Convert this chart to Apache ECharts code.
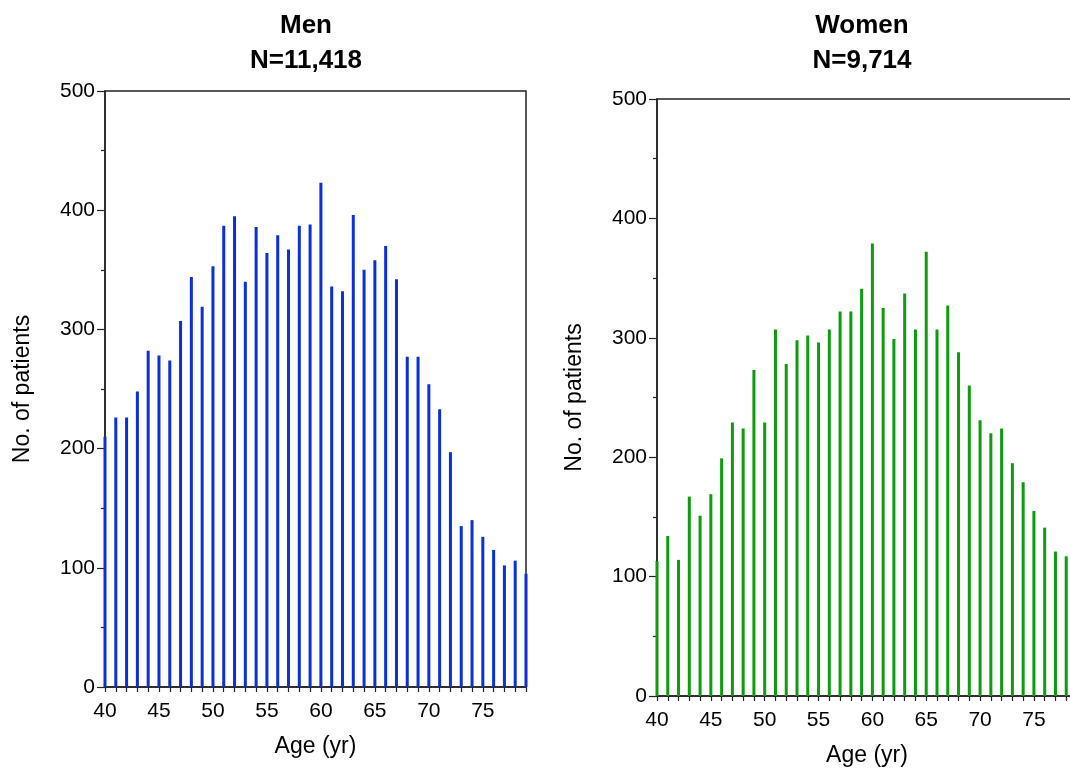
<!DOCTYPE html>
<html>
<head>
<meta charset="utf-8">
<title>Age distribution of patients</title>
<script src="https://cdn.jsdelivr.net/npm/echarts@6/dist/echarts.min.js"></script>
<style>
  html, body { margin: 0; padding: 0; background: #fff; }
  #chart { width: 1070px; height: 775px; }
</style>
</head>
<body>
<div id="chart"></div>
<script>
// Ages (years) for each bar
const ages = [40, 41, 42, 43, 44, 45, 46, 47, 48, 49, 50, 51, 52, 53, 54, 55, 56, 57, 58, 59,
              60, 61, 62, 63, 64, 65, 66, 67, 68, 69, 70, 71, 72, 73, 74, 75, 76, 77, 78, 79];

// Number of patients per year of age — men
const menCounts = [210, 226, 226, 248, 282, 278, 274, 307, 344, 319, 353, 387, 395, 340, 386, 364, 379, 367, 387, 388,
                   423, 336, 332, 396, 350, 358, 370, 342, 277, 277, 254, 233, 197, 135, 140, 126, 115, 102, 106, 95];

// Number of patients per year of age — women (ages 40–78)
const womenCounts = [113, 134, 114, 167, 151, 169, 199, 229, 224, 273, 229, 307, 278, 298, 302, 296, 307, 322, 322, 341,
                     379, 325, 299, 337, 307, 372, 307, 327, 288, 260, 231, 220, 224, 195, 179, 155, 141, 121, 117];

const panelTitles = [['Men', 'N=11,418'], ['Women', 'N=9,714']];
const yTicks = { min: 0, max: 500, interval: 100 };
const xRange = { min: 40, max: 79 };
const xLabelStep = 5;
const xName = 'Age (yr)';
const yName = 'No. of patients';

const FONT = '"Liberation Sans", Arial, Helvetica, sans-serif';
const AXIS_COLOR = '#222';

function pairs(xs, ys) {
  return ys.map((v, i) => [xs[i], v]);
}

function xAxisFor(gridIndex) {
  return {
    type: 'value', gridIndex,
    min: xRange.min, max: xRange.max, interval: 1,
    name: xName, nameLocation: 'middle', nameGap: 48,
    nameTextStyle: { fontFamily: FONT, fontSize: 23, color: '#000' },
    axisLine: { show: true, onZero: false, lineStyle: { color: AXIS_COLOR, width: 1.5 } },
    axisTick: { show: true, length: 5, lineStyle: { color: AXIS_COLOR, width: 1.2 } },
    axisLabel: {
      margin: 14, fontFamily: FONT, fontSize: 21, color: '#000',
      showMaxLabel: true, showMinLabel: true,
      formatter: v => (v % xLabelStep === 0 ? String(v) : '')
    },
    splitLine: { show: false }
  };
}

function yAxisFor(gridIndex) {
  return {
    type: 'value', gridIndex,
    min: yTicks.min, max: yTicks.max, interval: yTicks.interval,
    name: yName, nameLocation: 'middle', nameGap: 71,
    nameTextStyle: { fontFamily: FONT, fontSize: 23, color: '#000' },
    axisLine: { show: true, lineStyle: { color: AXIS_COLOR, width: 1.5 } },
    axisTick: { show: true, length: 8, lineStyle: { color: AXIS_COLOR, width: 1.2 } },
    minorTick: { show: true, splitNumber: 2, length: 4, lineStyle: { color: AXIS_COLOR, width: 1.2 } },
    axisLabel: { margin: 10, fontFamily: FONT, fontSize: 21, color: '#000' },
    splitLine: { show: false }
  };
}

function titleText(x, lines) {
  return {
    type: 'text', x, y: 8, z: 10,
    style: {
      text: lines.join('\n'),
      textAlign: 'center', textVerticalAlign: 'top',
      font: 'bold 26px ' + FONT, lineHeight: 35, fill: '#000'
    }
  };
}

const chart = echarts.init(document.getElementById('chart'), null, { renderer: 'canvas' });

chart.setOption({
  backgroundColor: '#fff',
  animation: false,
  grid: [
    { left: 105, top: 91, width: 421, height: 596, show: true, outerBoundsMode: 'none',
      borderColor: AXIS_COLOR, borderWidth: 1.5, backgroundColor: 'transparent' },
    // the women's panel runs on past the right edge of the page
    { left: 657, top: 99, width: 420, height: 597, show: true, outerBoundsMode: 'none',
      borderColor: AXIS_COLOR, borderWidth: 1.5, backgroundColor: 'transparent' }
  ],
  xAxis: [xAxisFor(0), xAxisFor(1)],
  yAxis: [yAxisFor(0), yAxisFor(1)],
  graphic: [
    titleText(306, panelTitles[0]),
    titleText(862, panelTitles[1])
  ],
  series: [
    {
      type: 'bar', xAxisIndex: 0, yAxisIndex: 0, clip: false,
      barWidth: 3, data: pairs(ages, menCounts),
      itemStyle: { color: '#0b2fd8' }
    },
    {
      type: 'bar', xAxisIndex: 1, yAxisIndex: 1, clip: false,
      barWidth: 3, data: pairs(ages, womenCounts),
      itemStyle: { color: '#0c9c0c' }
    }
  ]
});
</script>
</body>
</html>
